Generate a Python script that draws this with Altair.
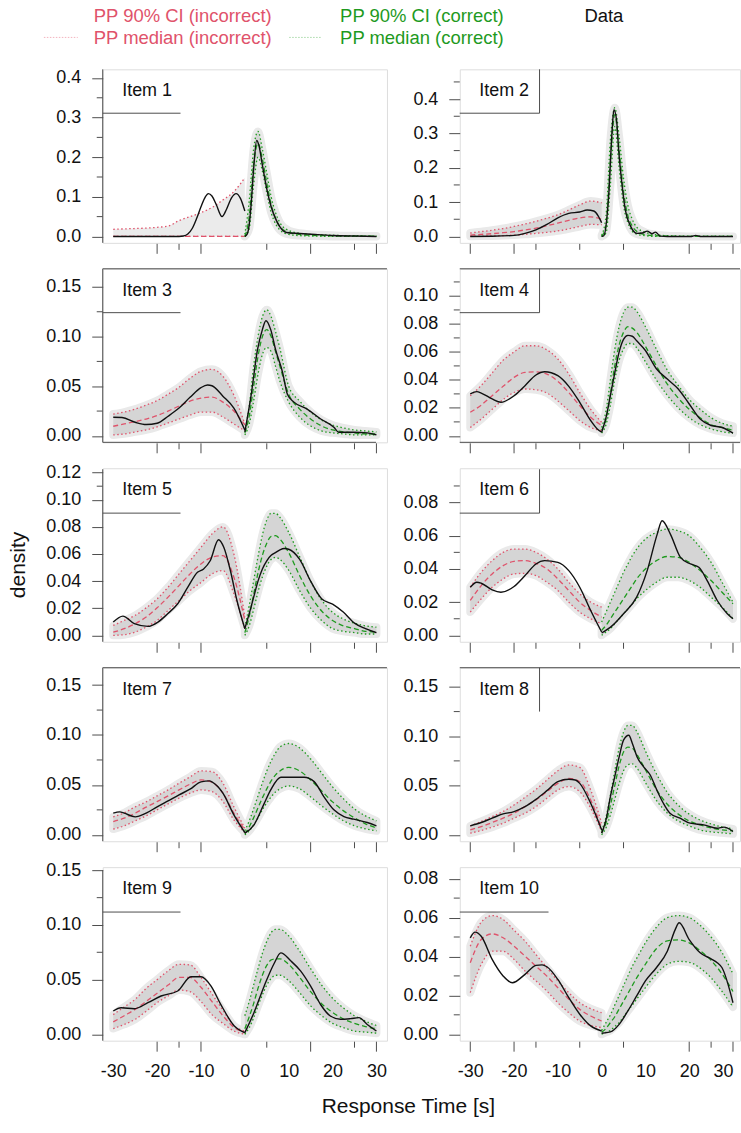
import altair as alt
import pandas as pd

# ---------------------------------------------------------------------------
# Grids on which the posterior-predictive (PP) summaries are tabulated
# ---------------------------------------------------------------------------
NEG_X = [-30, -27.5, -25, -22.5, -20, -17.5, -15, -12.5, -10, -7.5, -5, -2.5, 0]
POS_X = [0, 1, 2, 3, 4, 5, 6, 7, 8, 10, 12.5, 15, 17.5, 20, 22.5, 25, 27.5, 30]

# Each item: observed density (x, y) for incorrect (<0) and correct (>0) responses,
# and PP 90% CI lower / median / upper on NEG_X (incorrect) and POS_X (correct).

# ---- Item 1 ----
ITEM1_DATA_INC = (
    [-30, -15, -14, -13, -12, -11, -10, -9, -8.3, -7.5, -6.5, -5.2, -4.2, -3, -2, -1, 0],
    [0, 0, 0.001, 0.006, 0.02, 0.045, 0.075, 0.1, 0.108, 0.102, 0.08, 0.05, 0.068, 0.098, 0.108, 0.096, 0.064],
)
ITEM1_DATA_COR = (
    [0, 0.5, 1, 1.5, 2, 2.7, 3.2, 4, 5, 6, 7, 8, 9.5, 12.5, 16, 20, 25, 30],
    [0, 0.005, 0.03, 0.09, 0.17, 0.242, 0.23, 0.18, 0.12, 0.075, 0.045, 0.024, 0.01, 0.0075, 0.005, 0.0025, 0.001, 0],
)
ITEM1_PP_INC = (
    [0, 0, 0, 0, 0, 0, 0, 0, 0, 0, 0, 0, 0],
    [0, 0, 0, 0, 0, 0, 0, 0, 0, 0, 0, 0, 0],
    [0.018, 0.019, 0.02, 0.021, 0.023, 0.026, 0.04, 0.05, 0.06, 0.073, 0.092, 0.113, 0.148],
)
ITEM1_PP_COR = (
    [0.0, 0.02, 0.13, 0.2, 0.165, 0.11, 0.06, 0.032, 0.016, 0.005, 0.002, 0.001, 0.0005, 0, 0, 0, 0, 0],
    [0.0, 0.05, 0.18, 0.235, 0.195, 0.135, 0.08, 0.045, 0.025, 0.01, 0.005, 0.003, 0.002, 0.0015, 0.001, 0.001, 0.0005, 0.0005],
    [0.005, 0.09, 0.22, 0.265, 0.22, 0.16, 0.1, 0.06, 0.035, 0.015, 0.008, 0.005, 0.004, 0.003, 0.002, 0.002, 0.001, 0.001],
)

# ---- Item 2 ----
ITEM2_DATA_INC = (
    [-30, -25, -20, -17.5, -15, -12.5, -10, -7.5, -5, -3.3, -1.8, -0.8, 0],
    [0, 0.0005, 0.003, 0.009, 0.019, 0.035, 0.054, 0.067, 0.071, 0.077, 0.074, 0.06, 0.04],
)
ITEM2_DATA_COR = (
    [0, 0.5, 1.6, 2.4, 2.8, 3.4, 3.9, 4.7, 5.4, 6.6, 8.1, 9.3, 10.4, 11.5, 12.3, 13.4, 15, 20.5, 21.5, 22.5, 25, 30],
    [0, 0.002, 0.117, 0.31, 0.369, 0.34, 0.25, 0.146, 0.078, 0.03, 0.009, 0.01, 0.0155, 0.008, 0.0126, 0.001, 0, 0, 0.003, 0, 0, 0],
)
ITEM2_PP_INC = (
    [0.0005, 0.001, 0.0015, 0.0025, 0.004, 0.006, 0.009, 0.012, 0.016, 0.022, 0.029, 0.035, 0.034],
    [0.004, 0.006, 0.008, 0.011, 0.014, 0.019, 0.024, 0.031, 0.039, 0.047, 0.054, 0.057, 0.05],
    [0.010, 0.014, 0.018, 0.023, 0.029, 0.036, 0.044, 0.053, 0.063, 0.077, 0.092, 0.103, 0.098],
)
ITEM2_PP_COR = (
    [0.0, 0.01, 0.15, 0.32, 0.2, 0.09, 0.04, 0.015, 0.007, 0.002, 0, 0, 0, 0, 0, 0, 0, 0],
    [0.0, 0.03, 0.22, 0.355, 0.25, 0.13, 0.06, 0.03, 0.015, 0.005, 0.002, 0.001, 0, 0, 0, 0, 0, 0],
    [0.003, 0.06, 0.28, 0.375, 0.29, 0.17, 0.09, 0.05, 0.027, 0.012, 0.005, 0.002, 0.001, 0, 0, 0, 0, 0],
)

# ---- Item 3 ----
ITEM3_DATA_INC = (
    [-30, -28, -25, -22.5, -20, -17.5, -15, -12.5, -10, -8.5, -7.5, -5, -2.5, 0],
    [0.0188, 0.0185, 0.0137, 0.0114, 0.0127, 0.0198, 0.028, 0.0388, 0.0486, 0.0512, 0.0505, 0.040, 0.028, 0.006],
)
ITEM3_DATA_COR = (
    [0, 1.4, 2.9, 4, 4.8, 5.9, 7, 8.6, 9.7, 11.2, 14.2, 17.3, 20.3, 21.4, 24.8, 27.9, 30],
    [0.004, 0.04, 0.087, 0.107, 0.116, 0.107, 0.087, 0.064, 0.042, 0.034, 0.027, 0.017, 0.0087, 0.0037, 0.0037, 0.003, 0.001],
)
ITEM3_PP_INC = (
    [0.001, 0.002, 0.004, 0.006, 0.009, 0.013, 0.017, 0.021, 0.024, 0.024, 0.019, 0.012, 0.005],
    [0.0097, 0.012, 0.0144, 0.017, 0.0204, 0.025, 0.030, 0.035, 0.038, 0.039, 0.034, 0.025, 0.011],
    [0.022, 0.024, 0.027, 0.031, 0.0355, 0.042, 0.049, 0.058, 0.065, 0.067, 0.06, 0.041, 0.012],
)
ITEM3_PP_COR = (
    [0.001, 0.012, 0.035, 0.062, 0.082, 0.089, 0.085, 0.07, 0.055, 0.034, 0.019, 0.01, 0.005, 0.003, 0.002, 0.001, 0.001, 0.001],
    [0.003, 0.02, 0.05, 0.08, 0.1, 0.107, 0.1, 0.085, 0.07, 0.042, 0.027, 0.017, 0.01, 0.006, 0.004, 0.003, 0.002, 0.002],
    [0.006, 0.03, 0.07, 0.1, 0.12, 0.127, 0.12, 0.105, 0.088, 0.05, 0.035, 0.024, 0.016, 0.011, 0.008, 0.006, 0.005, 0.004],
)

# ---- Item 4 ----
ITEM4_DATA_INC = (
    [-30, -28.5, -27.5, -25, -23, -20, -17.5, -15, -13, -10, -7.5, -5, -2.5, -1, 0],
    [0.030, 0.0316, 0.0306, 0.0264, 0.024, 0.0287, 0.0359, 0.0435, 0.0458, 0.043, 0.0354, 0.024, 0.011, 0.005, 0.0026],
)
ITEM4_DATA_COR = (
    [0, 1, 2, 3, 4, 5, 6, 7, 8, 10, 12.5, 15, 17.5, 20, 22.5, 25, 27.5, 30],
    [0.0026, 0.013, 0.029, 0.045, 0.06, 0.069, 0.0718, 0.0712, 0.068, 0.061, 0.048, 0.0406, 0.0335, 0.0228, 0.012, 0.0074, 0.006, 0.002],
)
ITEM4_PP_INC = (
    [0.006, 0.012, 0.019, 0.026, 0.031, 0.0335, 0.033, 0.0306, 0.025, 0.018, 0.011, 0.006, 0.0038],
    [0.0169, 0.022, 0.0287, 0.0354, 0.0418, 0.0454, 0.0458, 0.0442, 0.039, 0.031, 0.0216, 0.0133, 0.0074],
    [0.0287, 0.036, 0.045, 0.054, 0.060, 0.0644, 0.0644, 0.0615, 0.0549, 0.0442, 0.031, 0.019, 0.0097],
)
ITEM4_PP_COR = (
    [0.002, 0.008, 0.022, 0.04, 0.054, 0.062, 0.066, 0.066, 0.063, 0.053, 0.04, 0.029, 0.02, 0.013, 0.008, 0.005, 0.003, 0.002],
    [0.004, 0.012, 0.03, 0.05, 0.065, 0.074, 0.078, 0.077, 0.074, 0.064, 0.05, 0.037, 0.027, 0.019, 0.013, 0.008, 0.006, 0.004],
    [0.006, 0.018, 0.04, 0.062, 0.078, 0.088, 0.092, 0.092, 0.089, 0.078, 0.062, 0.047, 0.036, 0.026, 0.019, 0.013, 0.009, 0.007],
)

# ---- Item 5 ----
ITEM5_DATA_INC = (
    [-30, -27.8, -25.2, -22.1, -19.8, -17.6, -15.3, -13.0, -10.8, -9.4, -7.9, -6.0, -4.8, -3.3, -1.8, 0],
    [0.0098, 0.0142, 0.0086, 0.0066, 0.0098, 0.0159, 0.0233, 0.0355, 0.0465, 0.049, 0.055, 0.0705, 0.0649, 0.0478, 0.0257, 0.0049],
)
ITEM5_DATA_COR = (
    [0, 1, 2, 3, 4, 5, 6, 7, 8, 9, 10, 12.5, 15, 17.5, 20, 22.5, 25, 27.5, 30],
    [0.005, 0.016, 0.028, 0.040, 0.049, 0.055, 0.059, 0.061, 0.063, 0.064, 0.0635, 0.056, 0.04, 0.027, 0.023, 0.017, 0.009, 0.005, 0.002],
)
ITEM5_PP_INC = (
    [0.0, 0.0005, 0.0024, 0.0061, 0.011, 0.0184, 0.0257, 0.033, 0.039, 0.0453, 0.0478, 0.0306, 0.0049],
    [0.0024, 0.0049, 0.0086, 0.0135, 0.0203, 0.0282, 0.0367, 0.0453, 0.0527, 0.0576, 0.0588, 0.0429, 0.011],
    [0.0073, 0.011, 0.0147, 0.0203, 0.0269, 0.0355, 0.0453, 0.0551, 0.0649, 0.0747, 0.08, 0.06, 0.0135],
)
ITEM5_PP_COR = (
    [0.0, 0.007, 0.019, 0.032, 0.043, 0.051, 0.056, 0.0575, 0.056, 0.048, 0.033, 0.02, 0.011, 0.005, 0.003, 0.002, 0.001, 0.001],
    [0.002, 0.014, 0.03, 0.046, 0.059, 0.068, 0.073, 0.0735, 0.071, 0.061, 0.044, 0.029, 0.018, 0.011, 0.007, 0.005, 0.003, 0.0025],
    [0.006, 0.022, 0.04, 0.058, 0.074, 0.085, 0.09, 0.09, 0.087, 0.076, 0.058, 0.04, 0.026, 0.017, 0.012, 0.009, 0.007, 0.006],
)

# ---- Item 6 ----
ITEM6_DATA_INC = (
    [-30, -28.5, -27.5, -25, -23, -20, -17.5, -15, -13, -10, -7.5, -5, -2.5, 0],
    [0.029, 0.032, 0.0314, 0.0274, 0.026, 0.0294, 0.036, 0.043, 0.045, 0.044, 0.039, 0.029, 0.015, 0.002],
)
ITEM6_DATA_COR = (
    [0, 2.5, 5, 8, 10.4, 12.7, 13.8, 15.7, 18, 20.3, 22.2, 24.1, 26.4, 28.7, 30],
    [0.0014, 0.006, 0.013, 0.023, 0.039, 0.061, 0.069, 0.061, 0.047, 0.043, 0.041, 0.033, 0.021, 0.013, 0.01],
)
ITEM6_PP_INC = (
    [0.014, 0.022, 0.029, 0.034, 0.037, 0.0374, 0.036, 0.032, 0.027, 0.02, 0.014, 0.01, 0.007],
    [0.021, 0.030, 0.037, 0.042, 0.0446, 0.045, 0.0434, 0.040, 0.034, 0.027, 0.02, 0.015, 0.011],
    [0.029, 0.038, 0.045, 0.05, 0.052, 0.052, 0.05, 0.046, 0.04, 0.032, 0.025, 0.02, 0.017],
)
ITEM6_PP_COR = (
    [0.0, 0.002, 0.004, 0.007, 0.01, 0.013, 0.016, 0.019, 0.022, 0.027, 0.032, 0.035, 0.035, 0.033, 0.029, 0.023, 0.017, 0.01],
    [0.003, 0.006, 0.01, 0.014, 0.018, 0.022, 0.026, 0.03, 0.034, 0.04, 0.045, 0.0475, 0.047, 0.044, 0.039, 0.033, 0.026, 0.019],
    [0.008, 0.014, 0.02, 0.026, 0.032, 0.038, 0.043, 0.048, 0.052, 0.058, 0.062, 0.064, 0.063, 0.06, 0.053, 0.044, 0.032, 0.02],
)

# ---- Item 7 ----
ITEM7_DATA_INC = (
    [-30, -28.5, -27.5, -25, -22.5, -20, -17.5, -15, -12.5, -10, -8, -7.5, -5, -2.5, 0],
    [0.0217, 0.023, 0.0217, 0.018, 0.0217, 0.028, 0.034, 0.04, 0.0457, 0.053, 0.054, 0.053, 0.0417, 0.02, 0.0023],
)
ITEM7_DATA_COR = (
    [0, 2.1, 4.4, 5.9, 8.2, 10.5, 13.5, 15.8, 18, 20.3, 22.6, 24.8, 27.9, 30],
    [0.0017, 0.01, 0.0313, 0.045, 0.0577, 0.0577, 0.0577, 0.0533, 0.0383, 0.025, 0.0183, 0.0157, 0.0123, 0.009],
)
ITEM7_PP_INC = (
    [0.0057, 0.009, 0.014, 0.019, 0.025, 0.031, 0.0367, 0.0417, 0.045, 0.0433, 0.0333, 0.015, 0.0023],
    [0.0133, 0.0167, 0.0217, 0.0277, 0.0333, 0.039, 0.045, 0.0507, 0.055, 0.0527, 0.0417, 0.0217, 0.005],
    [0.018, 0.022, 0.028, 0.033, 0.039, 0.045, 0.0517, 0.058, 0.064, 0.0633, 0.0517, 0.028, 0.0067],
)
ITEM7_PP_COR = (
    [0.0, 0.004, 0.01, 0.017, 0.025, 0.032, 0.038, 0.043, 0.046, 0.049, 0.046, 0.038, 0.029, 0.021, 0.014, 0.009, 0.006, 0.004],
    [0.001, 0.008, 0.017, 0.027, 0.037, 0.046, 0.054, 0.06, 0.064, 0.0675, 0.064, 0.055, 0.044, 0.033, 0.024, 0.017, 0.011, 0.007],
    [0.004, 0.014, 0.026, 0.039, 0.052, 0.064, 0.074, 0.082, 0.088, 0.0915, 0.087, 0.076, 0.062, 0.048, 0.036, 0.026, 0.019, 0.014],
)

# ---- Item 8 ----
ITEM8_DATA_INC = (
    [-30, -27.5, -25, -22.5, -20, -17.5, -15, -12.5, -10, -7.5, -6, -5, -2.5, 0],
    [0.0091, 0.0125, 0.0169, 0.0212, 0.0236, 0.0286, 0.036, 0.0448, 0.054, 0.0563, 0.0556, 0.0522, 0.032, 0.005],
)
ITEM8_DATA_COR = (
    [0, 1, 2, 3, 4, 5, 6.2, 7, 8.1, 9.6, 11.1, 12.6, 14.1, 15.6, 17.9, 20.2, 23.3, 26.4, 27.9, 30],
    [0.0017, 0.0152, 0.0388, 0.059, 0.079, 0.096, 0.101, 0.093, 0.079, 0.069, 0.0607, 0.0455, 0.032, 0.0219, 0.0169, 0.0118, 0.0101, 0.0067, 0.0078, 0.0034],
)
ITEM8_PP_INC = (
    [0.0017, 0.0044, 0.0078, 0.0118, 0.0169, 0.0219, 0.0286, 0.037, 0.0455, 0.0489, 0.0438, 0.027, 0.0034],
    [0.005, 0.0084, 0.0125, 0.0169, 0.0219, 0.0286, 0.0354, 0.0438, 0.0522, 0.0573, 0.0539, 0.0354, 0.0067],
    [0.009, 0.0135, 0.0185, 0.0236, 0.0303, 0.038, 0.046, 0.0556, 0.065, 0.0708, 0.0684, 0.0455, 0.0118],
)
ITEM8_PP_COR = (
    [0.0, 0.007, 0.02, 0.036, 0.052, 0.065, 0.071, 0.072, 0.068, 0.053, 0.035, 0.022, 0.014, 0.009, 0.005, 0.003, 0.002, 0.001],
    [0.002, 0.012, 0.03, 0.05, 0.07, 0.084, 0.089, 0.088, 0.082, 0.066, 0.046, 0.031, 0.021, 0.014, 0.01, 0.007, 0.005, 0.004],
    [0.004, 0.018, 0.04, 0.065, 0.088, 0.104, 0.111, 0.111, 0.105, 0.085, 0.062, 0.043, 0.03, 0.021, 0.015, 0.011, 0.008, 0.006],
)

# ---- Item 9 ----
ITEM9_DATA_INC = (
    [-30, -28.2, -25.2, -22.1, -19.1, -15.3, -12.3, -10, -7.7, -5.5, -2.4, 0],
    [0.0213, 0.0243, 0.0234, 0.0289, 0.035, 0.0396, 0.0526, 0.0526, 0.0441, 0.0274, 0.0076, 0.0015],
)
ITEM9_DATA_COR = (
    [0, 2.1, 4.4, 6.7, 8.2, 10.5, 12.7, 15, 17.3, 19.5, 21.8, 24.1, 26, 27.9, 30],
    [0.0015, 0.02, 0.044, 0.065, 0.0745, 0.067, 0.058, 0.044, 0.027, 0.0167, 0.0137, 0.0143, 0.0152, 0.009, 0.003],
)
ITEM9_PP_INC = (
    [0.0052, 0.009, 0.0137, 0.021, 0.029, 0.035, 0.0405, 0.039, 0.03, 0.018, 0.01, 0.003, 0.0],
    [0.0113, 0.017, 0.0228, 0.03, 0.0375, 0.045, 0.052, 0.052, 0.043, 0.03, 0.017, 0.0065, 0.0015],
    [0.018, 0.025, 0.032, 0.042, 0.05, 0.058, 0.064, 0.0635, 0.052, 0.037, 0.022, 0.008, 0.003],
)
ITEM9_PP_COR = (
    [0.0, 0.006, 0.015, 0.026, 0.036, 0.045, 0.051, 0.054, 0.054, 0.049, 0.038, 0.026, 0.017, 0.01, 0.006, 0.003, 0.002, 0.001],
    [0.005, 0.016, 0.028, 0.042, 0.054, 0.063, 0.068, 0.069, 0.069, 0.064, 0.052, 0.039, 0.028, 0.02, 0.014, 0.01, 0.007, 0.005],
    [0.017, 0.03, 0.045, 0.06, 0.074, 0.085, 0.093, 0.096, 0.096, 0.09, 0.076, 0.06, 0.045, 0.033, 0.024, 0.017, 0.012, 0.008],
)

# ---- Item 10 ----
ITEM10_DATA_INC = (
    [-30, -28.9, -27.5, -25, -22.5, -20.4, -17.5, -15, -13.6, -12.5, -10, -7.5, -5, -2.5, 0],
    [0.0496, 0.0525, 0.0504, 0.0385, 0.03, 0.0265, 0.0308, 0.0354, 0.0357, 0.0347, 0.0282, 0.0188, 0.0103, 0.0043, 0.0017],
)
ITEM10_DATA_COR = (
    [0, 2, 4, 6, 8, 10, 12.5, 15, 16.8, 17.7, 20, 22.5, 25, 26.4, 27.5, 30],
    [0.0005, 0.0012, 0.0051, 0.012, 0.0197, 0.0274, 0.0342, 0.0427, 0.0538, 0.0573, 0.0487, 0.0419, 0.0388, 0.0368, 0.0342, 0.0162],
)
ITEM10_PP_INC = (
    [0.0214, 0.0359, 0.0427, 0.0427, 0.0385, 0.0325, 0.0274, 0.0222, 0.0162, 0.0111, 0.0068, 0.0046, 0.0034],
    [0.0368, 0.0487, 0.0516, 0.0496, 0.0453, 0.0402, 0.035, 0.0299, 0.0239, 0.018, 0.0128, 0.0094, 0.0068],
    [0.0453, 0.0576, 0.061, 0.059, 0.0535, 0.0479, 0.041, 0.0342, 0.0274, 0.0214, 0.0162, 0.0132, 0.0111],
)
ITEM10_PP_COR = (
    [0.0, 0.001, 0.002, 0.004, 0.006, 0.009, 0.012, 0.015, 0.018, 0.024, 0.031, 0.036, 0.0375, 0.037, 0.034, 0.029, 0.022, 0.014],
    [0.001, 0.003, 0.006, 0.009, 0.013, 0.017, 0.021, 0.025, 0.029, 0.036, 0.044, 0.048, 0.0485, 0.047, 0.043, 0.038, 0.031, 0.022],
    [0.002, 0.006, 0.01, 0.015, 0.02, 0.025, 0.03, 0.035, 0.039, 0.047, 0.055, 0.06, 0.061, 0.06, 0.056, 0.05, 0.042, 0.031],
)

ITEMS = {
    1: (ITEM1_DATA_INC, ITEM1_DATA_COR, ITEM1_PP_INC, ITEM1_PP_COR),
    2: (ITEM2_DATA_INC, ITEM2_DATA_COR, ITEM2_PP_INC, ITEM2_PP_COR),
    3: (ITEM3_DATA_INC, ITEM3_DATA_COR, ITEM3_PP_INC, ITEM3_PP_COR),
    4: (ITEM4_DATA_INC, ITEM4_DATA_COR, ITEM4_PP_INC, ITEM4_PP_COR),
    5: (ITEM5_DATA_INC, ITEM5_DATA_COR, ITEM5_PP_INC, ITEM5_PP_COR),
    6: (ITEM6_DATA_INC, ITEM6_DATA_COR, ITEM6_PP_INC, ITEM6_PP_COR),
    7: (ITEM7_DATA_INC, ITEM7_DATA_COR, ITEM7_PP_INC, ITEM7_PP_COR),
    8: (ITEM8_DATA_INC, ITEM8_DATA_COR, ITEM8_PP_INC, ITEM8_PP_COR),
    9: (ITEM9_DATA_INC, ITEM9_DATA_COR, ITEM9_PP_INC, ITEM9_PP_COR),
    10: (ITEM10_DATA_INC, ITEM10_DATA_COR, ITEM10_PP_INC, ITEM10_PP_COR),
}

# Axis set-up per item
Y_TOP = {1: 0.4056, 2: 0.468, 3: 0.1618, 4: 0.1148, 5: 0.1185,
         6: 0.0968, 7: 0.161, 8: 0.163, 9: 0.147, 10: 0.0826}
Y_MAJOR = {
    1: [0, 0.1, 0.2, 0.3, 0.4], 2: [0, 0.1, 0.2, 0.3, 0.4],
    3: [0, 0.05, 0.1, 0.15], 4: [0, 0.02, 0.04, 0.06, 0.08, 0.1],
    5: [0, 0.02, 0.04, 0.06, 0.08, 0.1, 0.12], 6: [0, 0.02, 0.04, 0.06, 0.08],
    7: [0, 0.05, 0.1, 0.15], 8: [0, 0.05, 0.1, 0.15],
    9: [0, 0.05, 0.1, 0.15], 10: [0, 0.02, 0.04, 0.06, 0.08],
}
Y_MINOR = {
    1: [0.05, 0.15, 0.25, 0.35], 2: [0.05, 0.15, 0.25, 0.35, 0.45],
    3: [0.025, 0.075, 0.125], 4: [0.01, 0.03, 0.05, 0.07, 0.09, 0.11],
    5: [0.11], 6: [0.01, 0.05, 0.09],
    7: [0.025, 0.075, 0.125], 8: [0.075, 0.125],
    9: [0.075, 0.125], 10: [0.01, 0.03, 0.05, 0.07],
}
Y_FMT = {1: ".1f", 2: ".1f"}
X_LABELS = [-30, -20, -10, 0, 10, 20, 30]
X_TICKS_LONG = [[-20, -10, 15, 30], [-30, -20, 20, 30]]
X_TICKS_SHORT = [[-15, 5, 25], [-15, -5, 5, 25]]

# Styling / layout
FONT = "Liberation Sans"
RED = "#DF536B"
GREEN = "#1E9A1E"
INK = "#111111"
FRAME = "#4d4d4d"
BAND = "#d5d5d5"
BAND_SPARSE = "#ebebeb"   # item 1, incorrect side: scattered draws only
HALO = "#e9e9e9"
PANEL_W = [285, 281]
PANEL_H = 174
X_DOMAIN = [[-32.4, 32.4], [-32.4, 31.6]]

ONE = pd.DataFrame({"a": [0]})


def frame_segments(k, W, H):
    """Partial box lines around each panel and its item label."""
    segs = {
        1: [(0, 0, 0, H), (0, 44, 78, 44)],
        2: [(80, 0, 80, 44), (0, 44, 80, 44)],
        3: [(0, 0, 0, H), (0, 0, W, 0), (0, H, 274, H), (0, 44, 78, 44)],
        4: [(0, 0, W, 0), (0, H, W, H), (80, 0, 80, 44), (0, 44, 80, 44)],
        5: [(0, 1, 0, H), (0, 45, 78, 45)],
        6: [(80, 1, 80, 45), (0, 45, 80, 45)],
        7: [(0, 0, 0, H), (0, 0, W, 0)],
        8: [(0, 0, W, 0), (80, 0, 80, 44)],
        9: [(0, 3, 0, H), (0, 45, 78, 45)],
        10: [(0, 45, 89, 45)],
    }
    return segs[k]


def seg_rule(x1, y1, x2, y2, color=FRAME, dash=None, width=1):
    kw = dict(color=color, strokeWidth=width)
    if dash is not None:
        kw["strokeDash"] = dash
    return alt.Chart(ONE).mark_rule(**kw).encode(
        x=alt.value(x1), x2=alt.value(x2), y=alt.value(y1), y2=alt.value(y2)
    )


def label(text, x, y, color=INK, size=18, align="left", angle=None):
    kw = dict(text=text, color=color, fontSize=size, font=FONT, align=align, baseline="middle")
    if angle is not None:
        kw["angle"] = angle
    return alt.Chart(ONE).mark_text(**kw).encode(x=alt.value(x), y=alt.value(y))


def panel(k):
    col = (k - 1) % 2
    bottom = k >= 9
    W, H = PANEL_W[col], PANEL_H
    data_inc, data_cor, pp_inc, pp_cor = ITEMS[k]
    ymax = Y_TOP[k]

    xs = alt.Scale(domain=X_DOMAIN[col], nice=False, zero=False)
    ys = alt.Scale(domain=[-0.04 * ymax, 1.04 * ymax], nice=False, zero=False)
    if bottom:
        xaxis = alt.Axis(values=X_LABELS, labelExpr="'' + datum.value", ticks=False,
                         domain=False, grid=False, title=None, labelFontSize=18,
                         labelFont=FONT, labelColor=INK, labelPadding=22,
                         labelFlush=8, labelOverlap=False)
    else:
        xaxis = None
    yaxis = alt.Axis(values=Y_MAJOR[k], format=Y_FMT.get(k, ".2f"), domain=False, grid=False,
                     title=None, tickSize=11, tickColor=FRAME, labelFontSize=18,
                     labelFont=FONT, labelColor=INK, labelPadding=11,
                     labelFlush=False, labelOverlap=False)

    def X(f):
        return alt.X(f"{f}:Q", scale=xs, axis=xaxis)

    def Y(f):
        return alt.Y(f"{f}:Q", scale=ys, axis=yaxis)

    band_rows, pp_rows, obs_rows = [], [], []
    for side, grid, (lo, med, hi) in (("inc", NEG_X, pp_inc), ("cor", POS_X, pp_cor)):
        sparse = k == 1 and side == "inc"
        for x, a, b in zip(grid, lo, hi):
            band_rows.append({"x": x, "lo": a, "hi": b, "side": side, "sparse": sparse})
        for stat, vals in (("lo", lo), ("med", med), ("hi", hi)):
            for x, v in zip(grid, vals):
                pp_rows.append({"x": x, "y": v, "side": side,
                                "kind": "med" if stat == "med" else "ci",
                                "series": side + stat})
    for side, (xv, yv) in (("inc", data_inc), ("cor", data_cor)):
        for x, y in zip(xv, yv):
            obs_rows.append({"x": x, "y": y, "side": side})
    band_df = pd.DataFrame(band_rows)
    pp_df = pd.DataFrame(pp_rows)
    obs_df = pd.DataFrame(obs_rows)
    dense_df = band_df[~band_df["sparse"]].drop(columns="sparse")
    sparse_df = band_df[band_df["sparse"]].drop(columns="sparse")

    layers = []
    layers.append(alt.Chart(dense_df).mark_area(
        interpolate="monotone", clip=True, color=HALO, stroke=HALO,
        strokeWidth=8, strokeJoin="round"
    ).encode(x=X("x"), y=Y("lo"), y2=alt.Y2("hi:Q"), detail="side:N"))
    layers.append(alt.Chart(dense_df).mark_area(
        interpolate="monotone", clip=True, color=BAND
    ).encode(x=X("x"), y=Y("lo"), y2=alt.Y2("hi:Q"), detail="side:N"))
    if len(sparse_df):
        layers.append(alt.Chart(sparse_df).mark_area(
            interpolate="monotone", clip=True, color=BAND_SPARSE
        ).encode(x=X("x"), y=Y("lo"), y2=alt.Y2("hi:Q"), detail="side:N"))

    layers.append(alt.Chart(pp_df).mark_line(
        interpolate="monotone", clip=True, strokeWidth=1.3
    ).encode(
        x=X("x"), y=Y("y"),
        color=alt.Color("side:N", scale=alt.Scale(domain=["inc", "cor"], range=[RED, GREEN]), legend=None),
        strokeDash=alt.StrokeDash("kind:N", scale=alt.Scale(domain=["ci", "med"], range=[[1.5, 2.5], [5, 3]]), legend=None),
        detail="series:N",
    ))
    layers.append(alt.Chart(obs_df).mark_line(
        interpolate="monotone", clip=True, color=INK, strokeWidth=1.4
    ).encode(x=X("x"), y=Y("y"), detail="side:N"))

    # axis tick marks
    layers.append(alt.Chart(pd.DataFrame({"v": X_TICKS_LONG[col]})).mark_rule(color=FRAME).encode(
        x=X("v"), y=alt.value(H + 1), y2=alt.value(H + 11)))
    layers.append(alt.Chart(pd.DataFrame({"v": X_TICKS_SHORT[col]})).mark_rule(color=FRAME).encode(
        x=X("v"), y=alt.value(H + 1), y2=alt.value(H + 7)))
    layers.append(alt.Chart(pd.DataFrame({"v": Y_MINOR[k]})).mark_rule(color=FRAME).encode(
        y=Y("v"), x=alt.value(-6), x2=alt.value(0)))

    layers += [seg_rule(*s) for s in frame_segments(k, W, H)]
    layers.append(label(f"Item {k}", 19.5, 22))

    if k == 1:
        # figure anchor (top-left corner of the page) and the legend
        layers.append(alt.Chart(ONE).mark_rect(color="white").encode(
            x=alt.value(-102), x2=alt.value(-101), y=alt.value(-67), y2=alt.value(-66)))
        layers += [
            label("PP 90% CI (incorrect)", -9, -53.5, color=RED, size=18.5),
            label("PP median (incorrect)", -9, -31.5, color=RED, size=18.5),
            seg_rule(-59, -32, -25, -32, color="#F3B3BE", dash=[1.5, 1.5]),
            label("PP 90% CI (correct)", 238, -53.5, color=GREEN, size=18.5),
            label("PP median (correct)", 238, -31.5, color=GREEN, size=18.5),
            seg_rule(187, -32, 219, -32, color="#A6D8A6", dash=[1.5, 1.5]),
            label("Data", 483, -53.5, color=INK, size=18.5),
        ]
    if k == 5:
        layers.append(label("density", -84, 97, size=21, align="center", angle=270))
    if k == 9:
        layers.append(label("Response Time [s]", 306.5, 240, size=21, align="center"))

    return alt.layer(*layers).properties(width=W, height=H)


chart = alt.concat(
    *[panel(k) for k in range(1, 11)],
    columns=2,
    spacing={"row": 26, "column": 73},
    bounds="flush",
).properties(padding=0).configure_view(stroke=None).configure(font=FONT)

chart.save("out.html", embed_options={"renderer": "svg", "actions": False})
